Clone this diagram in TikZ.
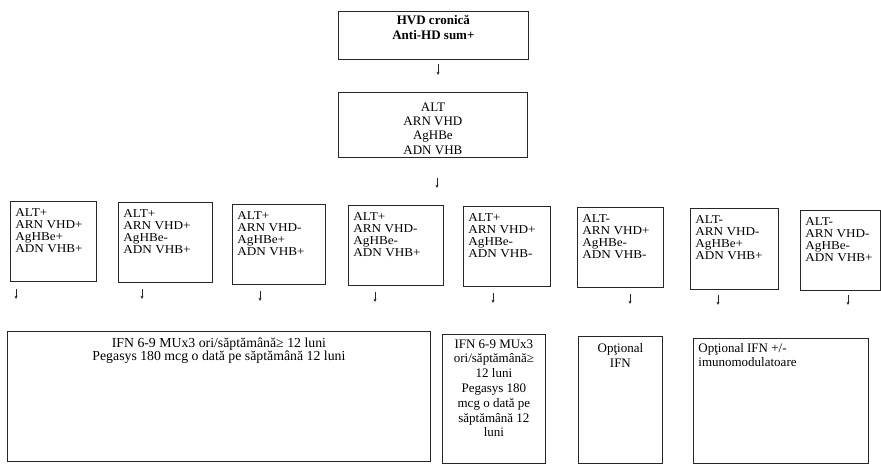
\documentclass[tikz,border=0pt]{standalone}
\usepackage{fontspec}
\setmainfont{Liberation Serif}
\newfontfamily\widefont{Liberation Serif}[FakeStretch=1.1]
\usetikzlibrary{arrows.meta}
\tikzset{
  box/.style={draw=black!85, line width=0.8pt, inner xsep=5pt, inner ysep=0pt, anchor=north west},
  rowfont/.style={font=\widefont\fontsize{12}{11.9}\selectfont},
  midfont/.style={font=\fontsize{13}{14.3}\selectfont},
  topfont/.style={font=\fontsize{13}{15}\bfseries\selectfont},
  bigfont/.style={font=\fontsize{13.8}{13.4}\selectfont},
  optfont/.style={font=\fontsize{13}{13.6}\selectfont},
  narfont/.style={font=\fontsize{13}{14.8}\selectfont},
  arr/.style={draw=black!85, line width=0.6pt, -{Stealth[length=3.2pt,width=3pt]}}
}
% name, x, y, width, height, top gap, style, content
\newcommand{\tbox}[8]{%
  \node[box,#7] (#1) at (#2,#3) {\parbox[b][#5pt][t]{\dimexpr#4pt-10pt\relax}{\vspace*{#6pt}#8}};}
\begin{document}
\begin{tikzpicture}[x=1pt,y=-1pt]
\useasboundingbox (0,0) rectangle (881,464);
% top boxes
\tbox{top}{338}{11}{190}{48}{3.5}{topfont}{\centering HVD cronică\\Anti-HD sum+}
\tbox{mid}{338}{92}{189}{65}{10.4}{midfont}{\centering ALT\\ARN VHD\\AgHBe\\ADN VHB}
% row boxes
\tbox{b1}{10}{201}{86}{80}{7.5}{rowfont}{\raggedright ALT+\\ARN VHD+\\AgHBe+\\ADN VHB+}
\tbox{b2}{118}{202}{94}{80}{7.5}{rowfont}{\raggedright ALT+\\ARN VHD+\\AgHBe-\\ADN VHB+}
\tbox{b3}{232}{204}{93}{80}{7.5}{rowfont}{\raggedright ALT+\\ARN VHD-\\AgHBe+\\ADN VHB+}
\tbox{b4}{348}{205}{95}{80}{7.5}{rowfont}{\raggedright ALT+\\ARN VHD-\\AgHBe-\\ADN VHB+}
\tbox{b5}{463}{206}{87}{80}{7.5}{rowfont}{\raggedright ALT+\\ARN VHD+\\AgHBe-\\ADN VHB-}
\tbox{b6}{577}{207}{86}{80}{7.5}{rowfont}{\raggedright ALT-\\ARN VHD+\\AgHBe-\\ADN VHB-}
\tbox{b7}{690}{208}{88}{81}{7.5}{rowfont}{\raggedright ALT-\\ARN VHD-\\AgHBe+\\ADN VHB+}
\tbox{b8}{800}{210}{80}{80}{7.5}{rowfont}{\raggedright ALT-\\ARN VHD-\\AgHBe-\\ADN VHB+}
% bottom boxes
\tbox{c1}{7}{331}{423}{130}{6.5}{bigfont}{\centering IFN 6-9 MUx3 ori/săptămână≥ 12 luni\\Pegasys 180 mcg o dată pe săptămână 12 luni}
\tbox{c2}{442}{334}{103}{129}{5}{narfont}{\centering IFN 6-9 MUx3\\ori/săptămână≥\\12 luni\\Pegasys 180\\mcg o dată pe\\săptămână 12\\luni}
\tbox{c3}{578}{336}{84}{127}{7}{narfont}{\centering Opţional\\IFN}
\tbox{c4}{693}{338}{175}{125}{5.5}{optfont}{\raggedright Opţional IFN +/-\\imunomodulatoare}
% arrows
\coordinate (t1) at (438,64);  \coordinate (t2) at (438,75);
\coordinate (m1) at (437,178); \coordinate (m2) at (437,188);
\draw[arr] (t1) -- (t2);
\draw[arr] (m1) -- (m2);
\foreach \i/\x/\y in {1/16/289, 2/142/289, 3/260/291, 4/375/292, 5/493/293, 6/630/294, 7/718/295, 8/848/295}{
  \coordinate (r\i a) at (\x,\y);
  \coordinate (r\i b) at (\x,\y+10);
  \draw[arr] (r\i a) -- (r\i b);
}
\end{tikzpicture}
\end{document}
